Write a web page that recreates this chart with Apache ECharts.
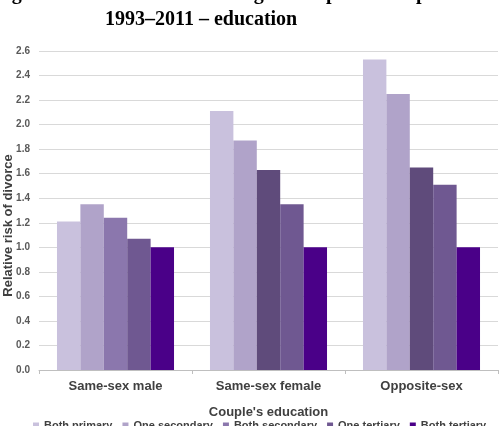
<!DOCTYPE html>
<html>
<head>
<meta charset="utf-8">
<script src="https://cdn.jsdelivr.net/npm/echarts@6/dist/echarts.min.js"></script>
<style>
  html, body { margin: 0; padding: 0; background: #fff; }
  #chart { width: 500px; height: 426px; }
</style>
</head>
<body>
<div id="chart"></div>
<script>
const groups = ['Same-sex male', 'Same-sex female', 'Opposite-sex'];
const levels = ['Both primary', 'One secondary', 'Both secondary', 'One tertiary', 'Both tertiary'];
const bothPrimary = [1.21, 2.11, 2.53];
const oneSecondary = [1.35, 1.87, 2.25];
const bothSecondary = [1.24, 1.63, 1.65];
const oneTertiary = [1.07, 1.35, 1.51];
const bothTertiary = [1.00, 1.00, 1.00];
const colors = ['#c9c1dd', '#b0a3c9', '#8b77ad', '#6f5891', '#4a0088'];

const seriesValues = [bothPrimary, oneSecondary, bothSecondary, oneTertiary, bothTertiary];
const labelFont = 'Liberation Sans, Arial, sans-serif';
const titleStyle = { fontFamily: 'Liberation Serif', fontWeight: 'bold', fontSize: 20, color: '#000' };

const chart = echarts.init(document.getElementById('chart'));

const series = levels.map((name, i) => {
    let data = seriesValues[i];
    // the "Both secondary" bars in the two right groups are drawn darker
    if (i === 2) {
        data = data.map((v, j) => j === 0 ? v : { value: v, itemStyle: { color: '#5f4b7b' } });
    }
    return {
        name: name,
        type: 'bar',
        data: data,
        barGap: '0%',
        barCategoryGap: '23.5%',
        itemStyle: { color: colors[i] }
    };
});

chart.setOption({
    backgroundColor: '#fff',
    animation: false,
    title: [
        { text: 'Figure 6.6:', left: -11, top: -21, textStyle: titleStyle },
        { text: 'Divorce risk in registered partnerships and marriages,', left: 100, top: -21, textStyle: titleStyle },
        { text: '1993\u20132011 \u2013 education', left: 100, top: 5, textStyle: titleStyle }
    ],
    legend: {
        data: levels,
        left: 33,
        top: 420,
        padding: 0,
        width: 480,
        itemWidth: 6,
        itemHeight: 6,
        itemGap: 10,
        icon: 'rect',
        textStyle: { fontFamily: labelFont, fontWeight: 'bold', fontSize: 11, color: '#404040' }
    },
    grid: { left: 39, right: 2, top: 51, bottom: 56, outerBoundsMode: 'none' },
    xAxis: {
        type: 'category',
        data: groups,
        name: "Couple's education",
        nameLocation: 'middle',
        nameGap: 36,
        nameTextStyle: { fontFamily: labelFont, fontWeight: 'bold', fontSize: 13, color: '#404040' },
        axisLine: { lineStyle: { color: '#bfbfbf' } },
        axisTick: { show: true, length: 4, lineStyle: { color: '#bfbfbf' } },
        axisLabel: { fontFamily: labelFont, fontWeight: 'bold', fontSize: 13, color: '#404040', margin: 10 }
    },
    yAxis: {
        type: 'value',
        min: 0,
        max: 2.6,
        interval: 0.2,
        name: 'Relative risk of divorce',
        nameLocation: 'middle',
        nameGap: 24,
        nameMoveOverlap: false,
        nameTextStyle: { fontFamily: labelFont, fontWeight: 'bold', fontSize: 13, color: '#404040', padding: [0, 30, 0, 0] },
        axisLine: { show: false },
        axisTick: { show: false },
        splitLine: { lineStyle: { color: '#d9d9d9' } },
        axisLabel: {
            fontFamily: labelFont, fontWeight: 'bold', fontSize: 10, color: '#595959', margin: 9,
            formatter: v => v.toFixed(1)
        }
    },
    series: series
});
</script>
</body>
</html>
